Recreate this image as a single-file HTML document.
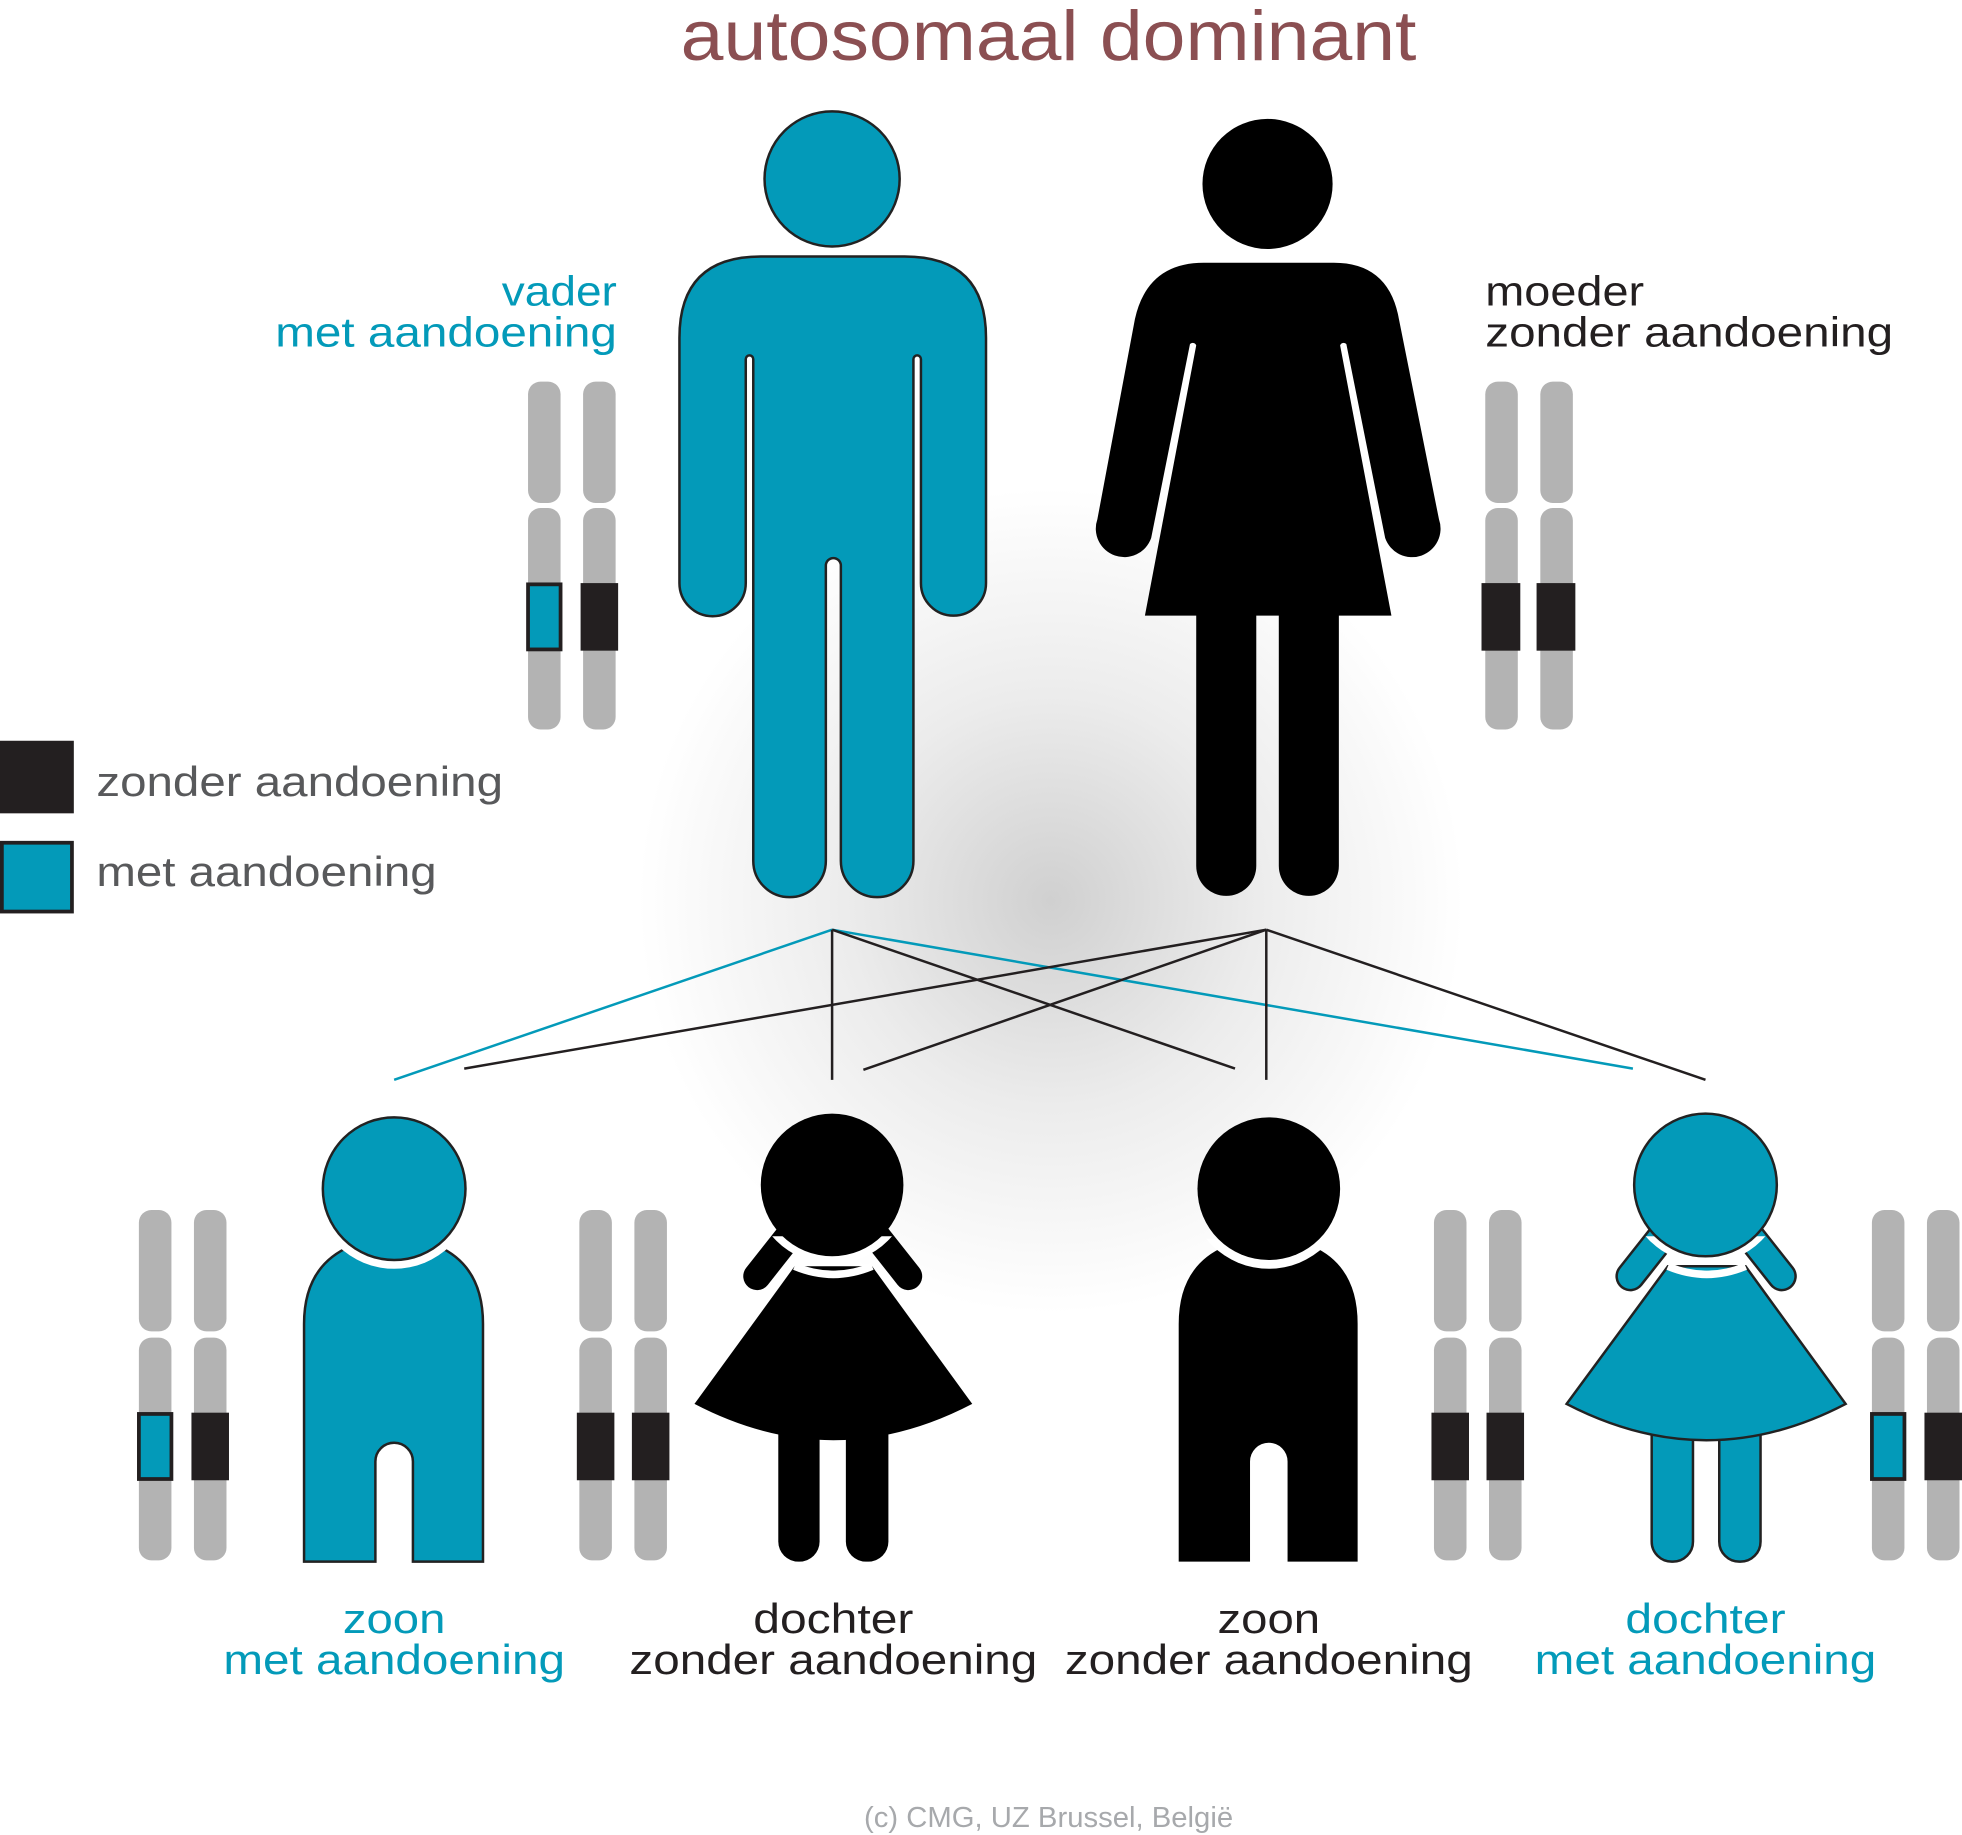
<!DOCTYPE html>
<html><head><meta charset="utf-8"><style>
html,body{margin:0;padding:0;background:#fff;}
svg{display:block;}
text{font-family:"Liberation Sans",sans-serif;}
</style></head><body>
<svg width="1962" height="1835" viewBox="0 0 1568 1466.5" xmlns="http://www.w3.org/2000/svg">
<defs>
<radialGradient id="g" cx="840" cy="720" r="330" gradientUnits="userSpaceOnUse">
<stop offset="0" stop-color="#d0d0d0"/><stop offset="0.5" stop-color="#ececec"/><stop offset="1" stop-color="#fff"/>
</radialGradient>
<clipPath id="lowA"><rect x="0" y="990" width="1568" height="100"/></clipPath>
<clipPath id="lowB"><rect x="0" y="988" width="1568" height="100"/></clipPath>
</defs>
<rect width="1568" height="1467" fill="#fff"/>
<ellipse cx="840" cy="720" rx="330" ry="330" fill="url(#g)"/>

<text x="838" y="48" font-size="56" fill="#8b4f52" text-anchor="middle" textLength="588" lengthAdjust="spacingAndGlyphs">autosomaal dominant</text>

<!-- father -->
<path d="M543 270 Q543 205 608 205 L723 205 Q788 205 788 270 L788 466 A26 26 0 0 1 736 466 L736 287 A3 3 0 0 0 730 287 L730 688 A29 29 0 0 1 672 688 L672 452 A6 6 0 0 0 660 452 L660 688 A29 29 0 0 1 602 688 L602 287 A3 3 0 0 0 596 287 L596 466 A26 26 0 0 1 543 466 Z" fill="#039ab9" stroke="#222" stroke-width="2"/>
<circle cx="665" cy="143" r="54" fill="#039ab9" stroke="#222" stroke-width="2"/>

<!-- mother -->
<path d="M907 255 Q917 210 962 210 L1066 210 Q1110 210 1118 255 L1150 415 A22 22 0 0 1 1107 430 L1076 275 A3 3 0 0 0 1071 276 L1112 492 L1070 492 L1070 692 A24 24 0 0 1 1022 692 L1022 492 L1004 492 L1004 692 A24 24 0 0 1 956 692 L956 492 L915 492 L956 276 A3 3 0 0 0 951 275 L920 430 A22 22 0 0 1 877 415 Z" fill="#000"/>
<circle cx="1013" cy="147" r="52" fill="#000"/>

<!-- parent chromosomes -->
<g fill="#b3b3b3">
<rect x="422" y="305" width="26" height="97" rx="10"/><rect x="422" y="406" width="26" height="177" rx="10"/>
<rect x="466" y="305" width="26" height="97" rx="10"/><rect x="466" y="406" width="26" height="177" rx="10"/>
<rect x="1187" y="305" width="26" height="97" rx="10"/><rect x="1187" y="406" width="26" height="177" rx="10"/>
<rect x="1231" y="305" width="26" height="97" rx="10"/><rect x="1231" y="406" width="26" height="177" rx="10"/>
</g>
<rect x="422" y="467" width="26" height="52" fill="#039ab9" stroke="#231f20" stroke-width="3"/>
<rect x="464" y="466" width="30" height="54" fill="#231f20"/>
<rect x="1184" y="466" width="31" height="54" fill="#231f20"/>
<rect x="1228" y="466" width="31" height="54" fill="#231f20"/>

<g font-size="33">
<text x="493" y="244" fill="#039ab9" text-anchor="end" textLength="92" lengthAdjust="spacingAndGlyphs">vader</text>
<text x="493" y="277" fill="#039ab9" text-anchor="end" textLength="273" lengthAdjust="spacingAndGlyphs">met aandoening</text>
<text x="1187" y="244" fill="#231f20" textLength="127" lengthAdjust="spacingAndGlyphs">moeder</text>
<text x="1187" y="277" fill="#231f20" textLength="326" lengthAdjust="spacingAndGlyphs">zonder aandoening</text>
</g>

<rect x="0" y="592" width="59" height="58" fill="#231f20"/>
<rect x="1.5" y="673.5" width="56" height="55" fill="#039ab9" stroke="#231f20" stroke-width="3"/>
<g font-size="33" fill="#58595b">
<text x="77" y="636" textLength="325" lengthAdjust="spacingAndGlyphs">zonder aandoening</text>
<text x="77" y="708" textLength="272" lengthAdjust="spacingAndGlyphs">met aandoening</text>
</g>

<g stroke-width="2" fill="none">
<line x1="665" y1="743" x2="315" y2="863" stroke="#039ab9"/>
<line x1="665" y1="743" x2="1305" y2="854" stroke="#039ab9"/>
<line x1="665" y1="743" x2="665" y2="863" stroke="#231f20"/>
<line x1="665" y1="743" x2="987" y2="854" stroke="#231f20"/>
<line x1="1012" y1="743" x2="371" y2="854" stroke="#231f20"/>
<line x1="1012" y1="743" x2="690" y2="855" stroke="#231f20"/>
<line x1="1012" y1="743" x2="1012" y2="863" stroke="#231f20"/>
<line x1="1012" y1="743" x2="1363" y2="863" stroke="#231f20"/>
</g>

<!-- son1 -->
<path d="M243 1248 L243 1058 Q243 1012 280 996 L350 996 Q386 1012 386 1058 L386 1248 L330 1248 L330 1168 A15 15 0 0 0 300 1168 L300 1248 Z" fill="#039ab9" stroke="#222" stroke-width="2"/>
<circle cx="315" cy="950" r="64" fill="#fff" clip-path="url(#lowA)"/>
<circle cx="315" cy="950" r="57" fill="#039ab9" stroke="#222" stroke-width="2"/>

<!-- son2 -->
<path d="M942 1248 L942 1058 Q942 1012 979 996 L1049 996 Q1085 1012 1085 1058 L1085 1248 L1029 1248 L1029 1168 A15 15 0 0 0 999 1168 L999 1248 Z" fill="#000"/>
<circle cx="1014" cy="950" r="64" fill="#fff" clip-path="url(#lowA)"/>
<circle cx="1014" cy="950" r="57" fill="#000"/>

<!-- daughter1 -->
<g>
<rect x="622" y="1120" width="33" height="128" rx="16" fill="#000"/>
<rect x="676" y="1120" width="34" height="128" rx="16" fill="#000"/>
<path d="M635 1012 L697 1012 L777 1122 Q666 1180 555 1122 Z" fill="#000"/>
<line x1="605" y1="1020" x2="635" y2="982" stroke="#000" stroke-width="22" stroke-linecap="round"/>
<line x1="726" y1="1020" x2="696" y2="982" stroke="#000" stroke-width="22" stroke-linecap="round"/>
<path d="M635 1012 Q666 1025 697 1012" stroke="#fff" stroke-width="6" fill="none"/>
<circle cx="665" cy="947" r="63" fill="#fff" clip-path="url(#lowB)"/>
<circle cx="665" cy="947" r="57" fill="#000"/>
</g>

<!-- daughter2 -->
<g>
<rect x="1320" y="1120" width="33" height="128" rx="16" fill="#039ab9" stroke="#222" stroke-width="2"/>
<rect x="1374" y="1120" width="33" height="128" rx="16" fill="#039ab9" stroke="#222" stroke-width="2"/>
<path d="M1333 1012 L1395 1012 L1475 1122 Q1364 1180 1252 1122 Z" fill="#039ab9" stroke="#222" stroke-width="2"/>
<line x1="1303" y1="1020" x2="1333" y2="982" stroke="#222" stroke-width="24" stroke-linecap="round"/>
<line x1="1424" y1="1020" x2="1394" y2="982" stroke="#222" stroke-width="24" stroke-linecap="round"/>
<line x1="1303" y1="1020" x2="1333" y2="982" stroke="#039ab9" stroke-width="20" stroke-linecap="round"/>
<line x1="1424" y1="1020" x2="1394" y2="982" stroke="#039ab9" stroke-width="20" stroke-linecap="round"/>
<path d="M1333 1012 Q1364 1025 1395 1012" stroke="#fff" stroke-width="6" fill="none"/>
<circle cx="1363" cy="947" r="63" fill="#fff" clip-path="url(#lowB)"/>
<circle cx="1363" cy="947" r="57" fill="#039ab9" stroke="#222" stroke-width="2"/>
</g>

<g fill="#b3b3b3">
<rect x="111" y="967" width="26" height="97" rx="10"/><rect x="111" y="1069" width="26" height="178" rx="10"/>
<rect x="155" y="967" width="26" height="97" rx="10"/><rect x="155" y="1069" width="26" height="178" rx="10"/>
<rect x="463" y="967" width="26" height="97" rx="10"/><rect x="463" y="1069" width="26" height="178" rx="10"/>
<rect x="507" y="967" width="26" height="97" rx="10"/><rect x="507" y="1069" width="26" height="178" rx="10"/>
<rect x="1146" y="967" width="26" height="97" rx="10"/><rect x="1146" y="1069" width="26" height="178" rx="10"/>
<rect x="1190" y="967" width="26" height="97" rx="10"/><rect x="1190" y="1069" width="26" height="178" rx="10"/>
<rect x="1496" y="967" width="26" height="97" rx="10"/><rect x="1496" y="1069" width="26" height="178" rx="10"/>
<rect x="1540" y="967" width="26" height="97" rx="10"/><rect x="1540" y="1069" width="26" height="178" rx="10"/>
</g>
<rect x="111" y="1130" width="26" height="52" fill="#039ab9" stroke="#231f20" stroke-width="3"/>
<rect x="153" y="1129" width="30" height="54" fill="#231f20"/>
<rect x="461" y="1129" width="30" height="54" fill="#231f20"/>
<rect x="505" y="1129" width="30" height="54" fill="#231f20"/>
<rect x="1144" y="1129" width="30" height="54" fill="#231f20"/>
<rect x="1188" y="1129" width="30" height="54" fill="#231f20"/>
<rect x="1496" y="1130" width="26" height="52" fill="#039ab9" stroke="#231f20" stroke-width="3"/>
<rect x="1538" y="1129" width="30" height="54" fill="#231f20"/>

<g font-size="33" text-anchor="middle">
<text x="315" y="1305" fill="#039ab9" textLength="82" lengthAdjust="spacingAndGlyphs">zoon</text>
<text x="315" y="1338" fill="#039ab9" textLength="273" lengthAdjust="spacingAndGlyphs">met aandoening</text>
<text x="666" y="1305" fill="#231f20" textLength="128" lengthAdjust="spacingAndGlyphs">dochter</text>
<text x="666" y="1338" fill="#231f20" textLength="326" lengthAdjust="spacingAndGlyphs">zonder aandoening</text>
<text x="1014" y="1305" fill="#231f20" textLength="82" lengthAdjust="spacingAndGlyphs">zoon</text>
<text x="1014" y="1338" fill="#231f20" textLength="326" lengthAdjust="spacingAndGlyphs">zonder aandoening</text>
<text x="1363" y="1305" fill="#039ab9" textLength="128" lengthAdjust="spacingAndGlyphs">dochter</text>
<text x="1363" y="1338" fill="#039ab9" textLength="273" lengthAdjust="spacingAndGlyphs">met aandoening</text>
</g>

<text x="838" y="1460" font-size="23" fill="#a7a9ac" text-anchor="middle" textLength="295" lengthAdjust="spacingAndGlyphs">(c) CMG, UZ Brussel, België</text>
</svg>
</body></html>
